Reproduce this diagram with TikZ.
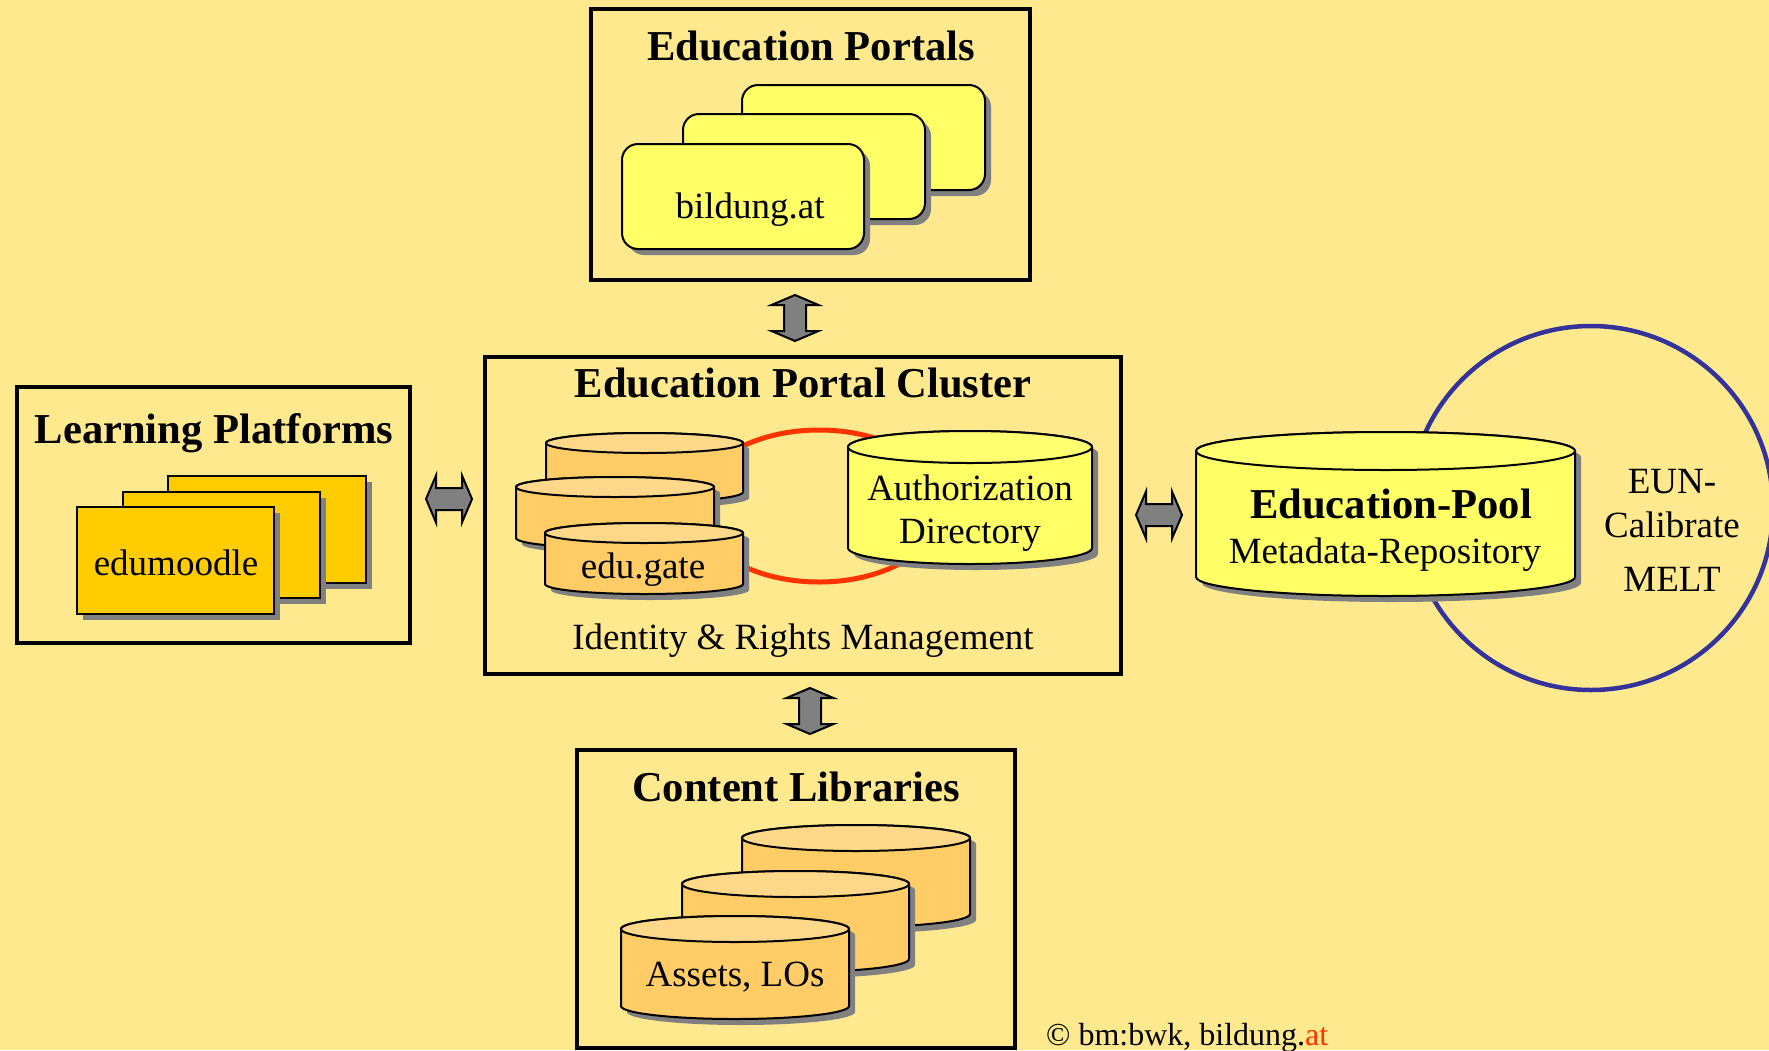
\documentclass[tikz,border=0pt]{standalone}
\usepackage{fontspec}
\setmainfont{Liberation Serif}
\definecolor{bg}{HTML}{FFE98F}
\definecolor{yel}{HTML}{FFFF66}
\definecolor{yeltop}{HTML}{FFFF70}
\definecolor{org}{HTML}{FFCC66}
\definecolor{orgtop}{HTML}{FFD88A}
\definecolor{gold}{HTML}{FFCC00}
\definecolor{shadowc}{HTML}{808080}
\definecolor{ringred}{HTML}{FF3300}
\definecolor{ringblue}{HTML}{333399}
\newcommand{\ttlfont}{\fontsize{42.6}{48}\selectfont\bfseries}
\newcommand{\txtfont}{\fontsize{37}{42}\selectfont}
\newcommand{\cylnd}[7]{%
  \pgfmathsetmacro\cyx{(#1+#2)/2}%
  \pgfmathsetmacro\cyr{(#2-#1)/2}%
  \pgfmathsetmacro\cyt{#3+#5}%
  \pgfmathsetmacro\cyb{#4-#5}%
  \fill[shadowc, shift={(6,6)}] (#1,\cyt) -- (#1,\cyb) arc[start angle=180,end angle=360,x radius=\cyr pt,y radius=#5pt] -- (#2,\cyt) arc[start angle=0,end angle=180,x radius=\cyr pt,y radius=#5pt] -- cycle;
  \draw[thinline, fill=#6] (#1,\cyt) -- (#1,\cyb) arc[start angle=180,end angle=360,x radius=\cyr pt,y radius=#5pt] -- (#2,\cyt) arc[start angle=0,end angle=180,x radius=\cyr pt,y radius=#5pt] -- cycle;
  \draw[thinline, fill=#7] (\cyx,\cyt) ellipse[x radius=\cyr pt,y radius=#5pt];
}
\newcommand{\card}[6]{%
  \fill[shadowc, shift={(6,6)}, #6] (#1,#2) rectangle (#3,#4);
  \draw[thinline, fill=#5, #6] (#1,#2) rectangle (#3,#4);
}
\newcommand{\dblarrow}[3]{%
  \begin{scope}[shift={(#1,#2)}, rotate=#3]
    \draw[blockarrow] (-23,0) -- (-13,-23.5) -- (-13,-11) -- (13,-11) -- (13,-23.5) -- (23,0) -- (13,23.5) -- (13,11) -- (-13,11) -- (-13,23.5) -- cycle;
  \end{scope}
}
\begin{document}
\begin{tikzpicture}[x=1pt,y=-1pt,
  frame/.style={draw=black, line width=3.5pt},
  thinline/.style={draw=black, line width=2pt},
  blockarrow/.style={draw=black, fill=shadowc, line width=2pt, line join=miter},
  ttl/.style={inner sep=0pt, anchor=base, font=\ttlfont},
  txt/.style={inner sep=0pt, anchor=base, font=\txtfont}]
\fill[bg] (0,0) rectangle (1769,1050);
\useasboundingbox (0,0) rectangle (1769,1050);

% ---------- Education Portals ----------
\draw[frame] (591,9) rectangle (1030,280);
\node[ttl] (portalsT) at (811,60) {Education Portals};
\card{742}{85}{985}{190}{yel}{rounded corners=16pt}
\card{683}{114}{925}{219}{yel}{rounded corners=16pt}
\card{622}{144}{864}{249}{yel}{rounded corners=16pt}
\node[txt] (bildung) at (750,218) {bildung.at};

% ---------- arrows ----------
\dblarrow{795}{318}{90}
\dblarrow{810}{711}{90}
\dblarrow{449}{499}{0}
\dblarrow{1159}{515}{0}

% ---------- Education Portal Cluster ----------
\draw[frame] (485,357) rectangle (1121,674);
\node[ttl] (clusterT) at (803,397) {Education Portal Cluster};
\draw[ringred, line width=5pt] (819,506) ellipse[x radius=124pt, y radius=76pt];
\cylnd{546}{743}{433}{502}{10}{org}{orgtop}
\cylnd{516}{714}{477}{548}{10}{org}{orgtop}
\cylnd{545}{743}{523}{594}{10}{org}{orgtop}
\node[txt] (edugate) at (643,578) {edu.gate};
\cylnd{848}{1092}{431}{564}{16}{yel}{yeltop}
\node[txt] (auth1) at (970,500) {Authorization};
\node[txt] (auth2) at (970,543) {Directory};
\node[txt] (irm) at (803,649) {Identity \& Rights Management};

% ---------- Learning Platforms ----------
\draw[frame] (17,387) rectangle (410,643);
\node[ttl] (lpT) at (214,443) {Learning Platforms};
\card{168}{476}{366}{583}{gold}{}
\card{123}{492}{320}{598}{gold}{}
\card{77}{507}{274}{614}{gold}{}
\node[txt] (edumoodle) at (176,575) {edumoodle};

% ---------- Content Libraries ----------
\draw[frame] (577,750) rectangle (1015,1048);
\node[ttl] (clT) at (796,801) {Content Libraries};
\cylnd{742}{970}{825}{927}{13}{org}{orgtop}
\cylnd{682}{909}{871}{972}{13}{org}{orgtop}
\cylnd{621}{849}{916}{1019}{13}{org}{orgtop}
\node[txt] (assets) at (735,986) {Assets, LOs};

% ---------- Education Pool ----------
\draw[ringblue, line width=4.5pt] (1591,508) circle[radius=182pt];
\cylnd{1196}{1575}{432}{596}{19}{yel}{yeltop}
\node[ttl] (poolT) at (1391,518) {Education-Pool};
\node[txt] (meta) at (1385,563) {Metadata-Repository};
\node[txt] (eun1) at (1672,493) {EUN-};
\node[txt] (eun2) at (1672,537) {Calibrate};
\node[txt] (eun3) at (1672,591) {MELT};

% ---------- copyright ----------
\node[inner sep=0pt, anchor=base west, font=\fontsize{32}{36}\selectfont] (copy) at (1046,1045) {© bm:bwk, bildung.\textcolor{ringred}{at}};
\end{tikzpicture}
\end{document}
